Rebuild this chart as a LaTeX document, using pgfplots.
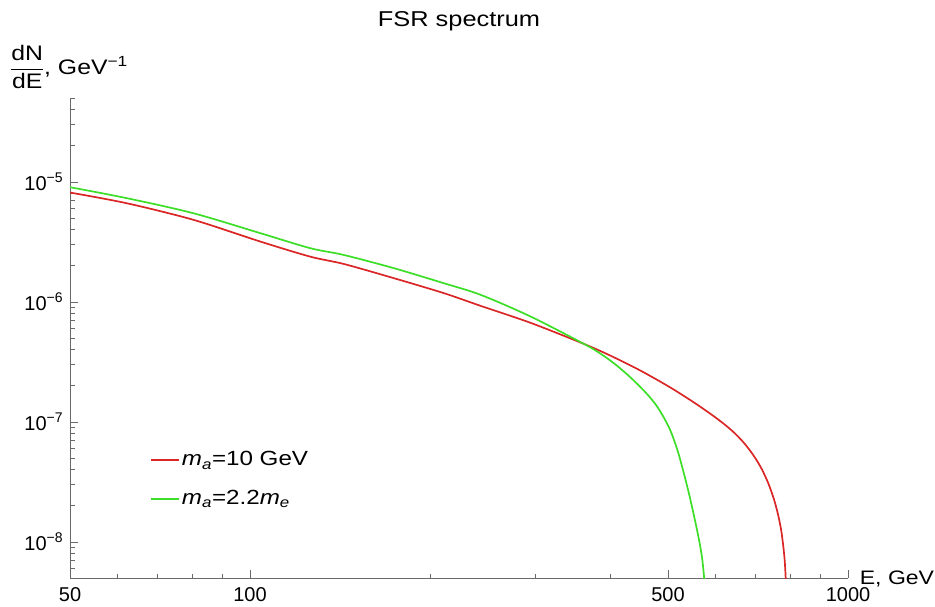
\documentclass[border=0pt]{standalone}
\usepackage{fontspec}
\setmainfont{Liberation Sans}
\newfontfamily\wide[FakeStretch=1.18]{Liberation Sans}
\usepackage{pgfplots}
\pgfplotsset{compat=1.18}
\definecolor{cred}{RGB}{218,38,38}
\definecolor{cgreen}{RGB}{60,222,40}
\definecolor{axgray}{RGB}{105,105,105}
\pgfplotsset{
  mylegend/.style={draw=none, fill=none, anchor=north west, font=\wide\fontsize{20.5}{24}\selectfont, cells={anchor=west}},
  legend image code/.code={\draw[#1] (0pt,0pt) -- (23pt,0pt); \path (0pt,0pt) -- (28pt,0pt);},
}
\begin{document}
\fontsize{20}{24}\selectfont
\begin{tikzpicture}[x=1pt,y=1pt]
\path[use as bounding box] (-70,-29) rectangle (865,578);
\begin{axis}[
  at={(0,0)}, anchor=south west,
  scale only axis, width=778pt, height=480pt,
  xmode=log, ymode=log,
  xmin=50, xmax=1000, ymin=5e-9, ymax=5e-5,
  axis x line*=bottom, axis y line*=left,
  axis line style={-, draw=axgray, line width=0.9pt},
  tick align=inside,
  tick style={axgray, line width=0.7pt},
  major tick length=8pt, minor tick length=4.5pt,
  xtick={50,100,500,1000}, xticklabels={50,100,500,1000},
  minor xtick={60,70,80,90,200,300,400,600,700,800,900},
  ytick={1e-8,1e-7,1e-6,1e-5},
  yticklabels={10\textsuperscript{−8},10\textsuperscript{−7},10\textsuperscript{−6},10\textsuperscript{−5}},
  minor ytick={6e-9,7e-9,8e-9,9e-9,2e-8,3e-8,4e-8,5e-8,6e-8,7e-8,8e-8,9e-8,2e-7,3e-7,4e-7,5e-7,6e-7,7e-7,8e-7,9e-7,2e-6,3e-6,4e-6,5e-6,6e-6,7e-6,8e-6,9e-6,2e-5,3e-5,4e-5,5e-5},
  every tick label/.append style={font=\fontsize{20}{24}\selectfont, text=black},
  xticklabel style={yshift=-3pt},
  title={FSR spectrum},
  title style={at={(axis description cs:0.5,1)}, anchor=base, yshift=66pt, font=\wide\fontsize{21.5}{25}\selectfont},
  xlabel={E, GeV},
  every axis x label/.style={at={(axis description cs:1,0)}, anchor=base west, xshift=5pt, yshift=-6pt, font=\wide\fontsize{19.5}{24}\selectfont},
  ylabel={$\displaystyle\frac{\mbox{dN}}{\mbox{dE}}$, GeV\textsuperscript{−1}},
  every axis y label/.style={at={(axis description cs:0,1)}, anchor=center, xshift=-1pt, yshift=31pt, font=\wide\fontsize{21}{25}\selectfont},
  legend style={mylegend, at={(axis description cs:0.099,0.272)}},
  clip=true,
]
\addplot[cred, line width=1.7pt, smooth, tension=0.5] coordinates {
(50,8.15e-6) (62.2,6.64e-6) (80.4,4.83e-6) (104.1,3.18e-6) (126.2,2.38e-6)
(143.5,2.07e-6) (174,1.576e-6) (211,1.182e-6) (243.1,9.26e-7) (294.8,6.68e-7)
(361.6,4.47e-7) (401.4,3.548e-7) (450.6,2.661e-7) (505.8,1.920e-7) (557.0,1.413e-7)
(601.6,1.080e-7) (637.5,8.58e-8) (667.7,6.81e-8) (694.0,5.31e-8) (715.7,4.136e-8)
(735.3,3.101e-8) (752.5,2.239e-8) (764.2,1.679e-8) (773.1,1.259e-8) (779.1,9.44e-9)
(783.6,7.08e-9) (786.6,5.11e-9) (789.6,3.3e-9)
};
\addlegendentry{\textit{m}\textsubscript{\textit{a}}=10 GeV}
\end{axis}
\begin{axis}[
  at={(0,0)}, anchor=south west,
  scale only axis, width=778pt, height=480pt,
  xmode=log, ymode=log,
  xmin=50, xmax=1000, ymin=5e-9, ymax=5e-5,
  hide axis,
  legend style={mylegend, at={(axis description cs:0.099,0.191)}},
  clip=true,
]
\addplot[cgreen, line width=1.7pt, smooth, tension=0.5] coordinates {
(50,9.03e-6) (62.2,7.32e-6) (80.4,5.48e-6) (104.1,3.735e-6) (126.2,2.80e-6)
(143.5,2.46e-6) (174,1.91e-6) (211,1.43e-6) (243.1,1.144e-6) (294.8,7.54e-7)
(361.6,4.47e-7) (386.2,3.686e-7) (409.2,2.985e-7) (433.6,2.326e-7) (459.4,1.744e-7)
(477.4,1.385e-7) (492.4,1.080e-7) (505.8,8.25e-8) (519.6,5.62e-8) (531.8,3.686e-8)
(542.2,2.512e-8) (552.7,1.647e-8) (563.5,1.039e-8) (570.1,7.36e-9) (574.5,5.11e-9) (579.0,3.3e-9)
};
\addlegendentry{\textit{m}\textsubscript{\textit{a}}=2.2\textit{m}\textsubscript{\textit{e}}}
\end{axis}
\end{tikzpicture}
\end{document}
